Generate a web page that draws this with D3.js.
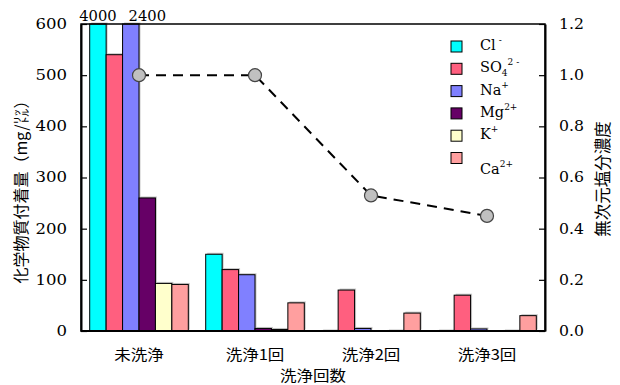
<!DOCTYPE html>
<html>
<head>
<meta charset="utf-8">
<script src="https://cdn.jsdelivr.net/npm/d3@7"></script>
<style>
  html, body { margin: 0; padding: 0; background: #fff; }
  svg { display: block; }
  .num { font-family: "DejaVu Serif", serif; }
  .jp { font-family: "Noto Sans CJK JP", sans-serif; }
</style>
</head>
<body>
<svg id="chart" width="620" height="385"></svg>
<script>
// Wash stages on the x axis
const stages = ["未洗浄", "洗浄1回", "洗浄2回", "洗浄3回"];

// Ion species (legend order) and their colours
const ions = ["Cl", "SO4", "Na", "Mg", "K", "Ca"];
const ionBase = ["Cl", "SO", "Na", "Mg", "K", "Ca"];
const ionSub = ["", "4", "", "", "", ""];
const ionSup = ["-", "2 -", "+", "2+", "+", "2+"];
const ionColors = ["#00ffff", "#ff5f7f", "#8080ff", "#660066", "#ffffcc", "#ff9f9f"];

// Deposited amount (mg/L) per stage, one array per ion
const clValues  = [4000, 150, 1, 1];
const so4Values = [540, 120, 80, 70];
const naValues  = [2400, 110, 5, 4];
const mgValues  = [260, 5, 0, 0];
const kValues   = [93, 3, 1, 1];
const caValues  = [91, 55, 35, 30];

// Dimensionless salt concentration per stage
const saltValues = [1.0, 1.0, 0.53, 0.45];

// Axis ticks
const leftTicks = [0, 100, 200, 300, 400, 500, 600];
const rightTicks = [0, 0.2, 0.4, 0.6, 0.8, 1.0, 1.2];

const series = [clValues, so4Values, naValues, mgValues, kValues, caValues];

const svg = d3.select("#chart");
const margin = { left: 81, right: 75, top: 24, bottom: 54 };
const W = 620, H = 385;
const x0 = margin.left, x1 = W - margin.right;
const y0 = H - margin.bottom, y1 = margin.top;

const xBand = d3.scaleBand().domain(stages).range([x0, x1])
  .paddingInner(0.15).paddingOuter(0.075);
const xIon = d3.scaleBand().domain(ions).range([0, xBand.bandwidth()]);
const yLeft = d3.scaleLinear().domain([0, 600]).range([y0, y1]).clamp(true);
const yRight = d3.scaleLinear().domain([0, 1.2]).range([y0, y1]);

// Widen serif numerals a little
function stretch(sel, k) {
  sel.each(function () {
    const w = this.getComputedTextLength();
    if (w > 0) {
      d3.select(this).attr("textLength", w * k).attr("lengthAdjust", "spacingAndGlyphs");
    }
  });
}

// Bars
const barData = [];
stages.forEach((s, i) => {
  ions.forEach((ion, j) => {
    barData.push({ stage: s, ion: ion, j: j, value: series[j][i] });
  });
});

const bars = svg.append("g");
// soft drop shadow behind each bar
bars.selectAll("rect.shadow").data(barData.filter(d => d.value > 0)).join("rect")
  .attr("class", "shadow")
  .attr("x", d => xBand(d.stage) + xIon(d.ion) + 1.5)
  .attr("y", d => yLeft(d.value) - 1.5)
  .attr("width", xIon.bandwidth())
  .attr("height", d => y0 - yLeft(d.value))
  .attr("fill", "#999").attr("opacity", 0.55);
bars.selectAll("rect.bar").data(barData.filter(d => d.value > 0)).join("rect")
  .attr("class", "bar")
  .attr("x", d => xBand(d.stage) + xIon(d.ion))
  .attr("y", d => yLeft(d.value))
  .attr("width", xIon.bandwidth())
  .attr("height", d => y0 - yLeft(d.value))
  .attr("fill", d => ionColors[d.j])
  .attr("stroke", "#000").attr("stroke-width", 1);

// Values of bars that run off the top of the axis; later labels are
// nudged right so they never overlap the previous one
const over = barData.filter(d => d.value > 600);
let lastRight = -Infinity;
svg.append("g").selectAll("text").data(over).join("text")
  .attr("class", "num")
  .attr("y", y1 - 3)
  .attr("text-anchor", "start")
  .attr("font-size", 14)
  .text(d => d.value)
  .call(stretch, 1.05)
  .each(function (d) {
    const w = +d3.select(this).attr("textLength") || this.getComputedTextLength();
    const centre = xBand(d.stage) + xIon(d.ion) + xIon.bandwidth() / 2;
    const left = Math.max(centre - w / 2, lastRight + 12);
    d3.select(this).attr("x", left);
    lastRight = left + w;
  });

// Frame
svg.append("rect")
  .attr("x", x0).attr("y", y1).attr("width", x1 - x0).attr("height", y0 - y1)
  .attr("fill", "none").attr("stroke", "#000").attr("stroke-width", 1.5);
svg.append("line").attr("x1", x0).attr("x2", x1).attr("y1", y0).attr("y2", y0)
  .attr("stroke", "#000").attr("stroke-width", 2);

// Left axis (ticks point inwards)
const gl = svg.append("g").attr("transform", `translate(${x0},0)`)
  .call(d3.axisLeft(yLeft).tickValues(leftTicks).tickSizeInner(-6).tickSizeOuter(0).tickPadding(14));
gl.select(".domain").attr("stroke-width", 2);
gl.selectAll(".tick line").attr("stroke-width", 1.2);
gl.selectAll(".tick text").attr("class", "num").attr("font-size", 14).attr("fill", "#000")
  .attr("font-family", null).call(stretch, 1.18);

// Right axis
const gr = svg.append("g").attr("transform", `translate(${x1},0)`)
  .call(d3.axisRight(yRight).tickValues(rightTicks).tickSizeInner(-6).tickSizeOuter(0).tickPadding(14)
    .tickFormat(d3.format(".1f")));
gr.select(".domain").attr("stroke-width", 2);
gr.selectAll(".tick line").attr("stroke-width", 1.2);
gr.selectAll(".tick text").attr("class", "num").attr("font-size", 14).attr("fill", "#000")
  .attr("font-family", null).call(stretch, 1.12);

// Category labels
svg.append("g").selectAll("text").data(stages).join("text")
  .attr("class", "jp")
  .attr("x", d => xBand(d) + xBand.bandwidth() / 2)
  .attr("y", 360)
  .attr("text-anchor", "middle")
  .attr("font-size", 15)
  .text(d => d)
  .call(stretch, 1.1);

// Axis titles
svg.append("text").attr("class", "jp")
  .attr("x", (x0 + x1) / 2).attr("y", 381)
  .attr("text-anchor", "middle").attr("font-size", 15)
  .text("洗浄回数").call(stretch, 1.1);
svg.append("text").attr("class", "jp")
  .attr("transform", `translate(27,${188}) rotate(-90)`)
  .attr("text-anchor", "middle").attr("font-size", 16)
  .text("化学物質付着量（mg/㍑）");
svg.append("text").attr("class", "jp")
  .attr("transform", `translate(609,${179}) rotate(-90)`)
  .attr("text-anchor", "middle").attr("font-size", 16.5)
  .text("無次元塩分濃度");

// Salt concentration line
const cx = d => xBand(d) + xBand.bandwidth() / 2;
const pts = stages.map((s, i) => [cx(s), yRight(saltValues[i])]);
svg.append("path")
  .attr("d", d3.line()(pts))
  .attr("fill", "none").attr("stroke", "#000")
  .attr("stroke-width", 2).attr("stroke-dasharray", "10,7");
svg.append("g").selectAll("circle").data(pts).join("circle")
  .attr("cx", d => d[0]).attr("cy", d => d[1]).attr("r", 6.5)
  .attr("fill", "#c0c0c0").attr("stroke", "#444").attr("stroke-width", 1.2);

// Legend
const lg = svg.append("g").attr("transform", "translate(451,41)");
const row = 22.3;
const items = lg.selectAll("g").data(ions).join("g")
  .attr("transform", (d, i) => `translate(0,${i * row})`);
items.append("rect").attr("width", 11).attr("height", 11)
  .attr("fill", (d, i) => ionColors[i]).attr("stroke", "#000").attr("stroke-width", 1);
const lt = items.append("text").attr("class", "num")
  .attr("x", 29).attr("y", (d, i) => i === ions.length - 1 ? 21 : 9)
  .attr("font-size", 14.5);
lt.append("tspan").text((d, i) => ionBase[i]);
lt.append("tspan").attr("font-size", 9).attr("dy", 4)
  .text((d, i) => ionSub[i]);
lt.append("tspan").attr("font-size", 9)
  .attr("dy", (d, i) => ionSub[i] ? -11 : -7)
  .attr("dx", (d, i) => ionBase[i] === "Cl" ? 3 : 0)
  .text((d, i) => ionSup[i]);
</script>
</body>
</html>
